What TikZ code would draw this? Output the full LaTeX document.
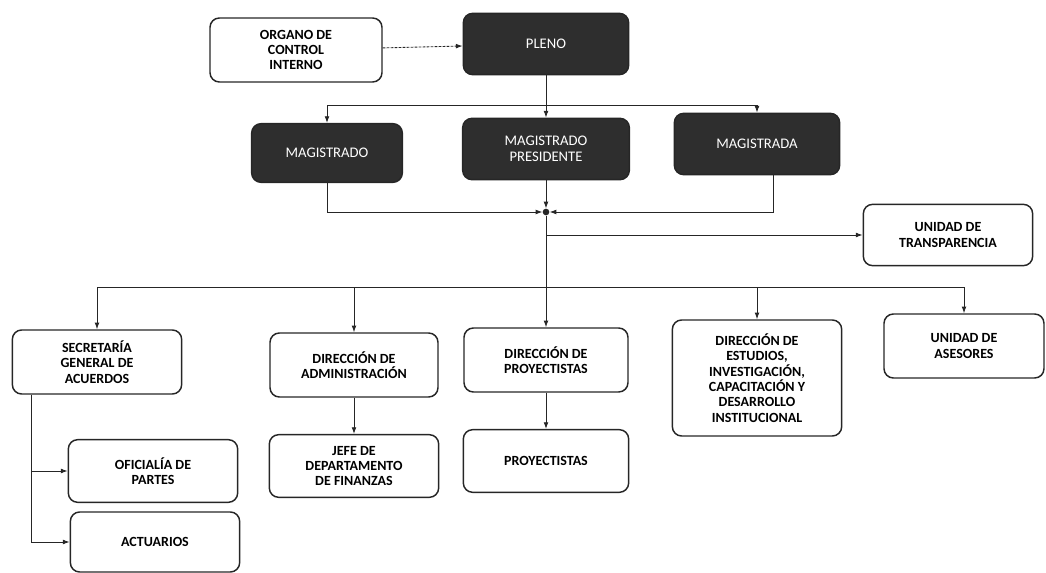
\documentclass[tikz,border=0pt]{standalone}
\usepackage{fontspec}
\setmainfont{Carlito}
\usepackage{xcolor}
\usepackage{tikz}
\usetikzlibrary{arrows.meta,positioning,calc}
\definecolor{Ink}{HTML}{262626}
\definecolor{Slate}{HTML}{2E2E2E}

\begin{document}
\begin{tikzpicture}[x=0.75pt,y=-0.75pt,
  every node/.style={font=\fontsize{10}{11}\selectfont},
  box/.style={draw=Ink,line width=1.1pt,rounded corners=7pt,align=center,
    font=\fontsize{10.5}{11.5}\selectfont\bfseries,inner sep=2pt},
  darkbox/.style={fill=Slate,draw=Ink,line width=1.1pt,rounded corners=7pt,align=center,
    text=white,font=\fontsize{11}{12}\selectfont,inner sep=2pt},
  link/.style={draw=Ink,line width=0.65pt,-{Latex[length=5pt,width=3.6pt]}},
  hubdot/.style={circle,fill=Ink,inner sep=0pt,minimum size=5pt}]
\useasboundingbox (0,0) rectangle (1046,573);
% top level
\node[box,minimum width=129pt,minimum height=48pt] (organo) at (296,50) {ORGANO DE\\CONTROL\\INTERNO};
\node[darkbox,minimum width=124pt,minimum height=46pt] (pleno) at (546,44) {PLENO};
\node[darkbox,minimum width=113pt,minimum height=44pt] (magA) at (327,153) {MAGISTRADO};
\node[darkbox,minimum width=125pt,minimum height=46pt] (presidente) at (546,149) {MAGISTRADO\\PRESIDENTE};
\node[darkbox,minimum width=124pt,minimum height=46pt] (magB) at (757,144) {MAGISTRADA};
\node[hubdot] (hub) at (546,212) {};
\node[box,minimum width=127pt,minimum height=46pt] (transp) at (948,235) {UNIDAD DE\\TRANSPARENCIA};
% second level
\node[box,minimum width=127pt,minimum height=48pt] (secretaria) at (97,362) {SECRETARÍA\\GENERAL DE\\ACUERDOS};
\node[box,minimum width=126pt,minimum height=48pt] (admin) at (354,365) {DIRECCIÓN DE\\ADMINISTRACIÓN};
\node[box,minimum width=123pt,minimum height=48pt] (dirproy) at (546,360) {DIRECCIÓN DE\\PROYECTISTAS};
\node[box,minimum width=127pt,minimum height=87pt] (estudios) at (757,378) {DIRECCIÓN DE\\ESTUDIOS,\\INVESTIGACIÓN,\\CAPACITACIÓN Y\\DESARROLLO\\INSTITUCIONAL};
\node[box,minimum width=120pt,minimum height=48pt] (asesores) at (964,346) {UNIDAD DE\\ASESORES};
% third level
\node[box,minimum width=127pt,minimum height=47pt] (oficialia) at (153,471) {OFICIALÍA DE\\PARTES};
\node[box,minimum width=127pt,minimum height=45pt] (actuarios) at (155,542) {ACTUARIOS};
\node[box,minimum width=127pt,minimum height=47pt] (jefe) at (354,466) {JEFE DE\\DEPARTAMENTO\\DE FINANZAS};
\node[box,minimum width=124pt,minimum height=47pt] (proyectistas) at (546,461) {PROYECTISTAS};
\coordinate (split) at (546,105);
\coordinate (bus) at (546,287);
% connectors
\draw[link,dash pattern=on 2pt off 1pt] (organo) -- (pleno);
\draw[link] (pleno) -- (presidente);
\draw[link] (split) -| (magA);
\draw[link] (split) -| (magB);
\draw[link] (presidente) -- (hub);
\draw[link] (magA.south) |- (hub);
\draw[link] ([xshift=12pt]magB.south) |- (hub);
\draw[link] (hub) |- (transp);
\draw[link] (hub) -- (dirproy);
\draw[link] (bus) -| (secretaria);
\draw[link] (bus) -| (admin);
\draw[link] (bus) -| (estudios);
\draw[link] (bus) -| (asesores);
\draw[link] ([xshift=15pt]secretaria.south west) |- (oficialia);
\draw[link] ([xshift=15pt]secretaria.south west) |- (actuarios);
\draw[link] (admin) -- (jefe);
\draw[link] (dirproy) -- (proyectistas);
\end{tikzpicture}
\end{document}
